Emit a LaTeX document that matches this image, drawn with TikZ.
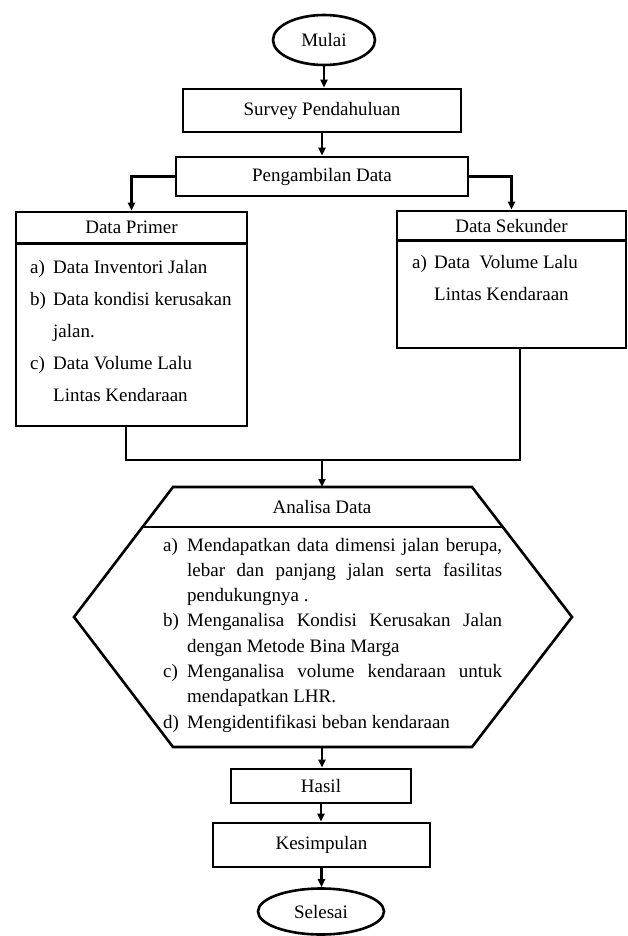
\documentclass[tikz,border=0pt]{standalone}
\usepackage{fontspec}
\setmainfont{Liberation Serif}
\usetikzlibrary{arrows.meta,shapes.geometric,calc}
\begin{document}
\begin{tikzpicture}[x=1pt,y=-1pt,
  every node/.style={font=\fontsize{19}{23}\selectfont, inner sep=0pt},
  box/.style={draw, line width=2.6pt, rectangle},
  term/.style={draw, line width=2.6pt, ellipse},
  sep/.style={line width=2.6pt},
  conn/.style={line width=2.1pt},
  arr/.style={conn, -{Triangle[length=8pt,width=7pt]}},
  txt/.style={anchor=base west},
  jline/.style={anchor=base west}]
\useasboundingbox (0,0) rectangle (628,936);

% terminals and boxes
\node[term, minimum width=102pt, minimum height=50pt] (mulai) at (324,40) {Mulai};
\node[box, minimum width=278pt, minimum height=43pt] (survey) at (322,110.5) {Survey Pendahuluan};
\node[box, minimum width=292pt, minimum height=39pt] (ambil) at (322,176.5) {Pengambilan Data};

% Data Primer
\node[box, minimum width=231pt, minimum height=214pt] (primer) at (131.5,319) {};
\draw[sep] ($(primer.north west)+(0,33)$) -- ($(primer.north east)+(0,33)$);
\node (primerT) at ($(primer.north)+(0,17)$) {Data Primer};
\node[txt] (p1l) at (30,273) {a)};
\node[txt] (p1) at (53,273) {Data Inventori Jalan};
\node[txt] (p2l) at (30,305) {b)};
\node[txt] (p2) at (53,305) {Data kondisi kerusakan};
\node[txt] (p3) at (53,337) {jalan.};
\node[txt] (p4l) at (30,369) {c)};
\node[txt] (p4) at (53,369) {Data Volume Lalu};
\node[txt] (p5) at (53,401) {Lintas Kendaraan};

% Data Sekunder
\node[box, minimum width=229pt, minimum height=137pt] (sekunder) at (511.5,279.5) {};
\draw[sep] ($(sekunder.north west)+(0,31)$) -- ($(sekunder.north east)+(0,31)$);
\node (sekT) at ($(sekunder.north)+(0,16)$) {Data Sekunder};
\node[txt] (s1l) at (412,268) {a)};
\node[txt] (s1) at (434,268) {Data~~Volume Lalu};
\node[txt] (s2) at (434,300) {Lintas Kendaraan};

% Analisa Data hexagon
\coordinate (hexNW) at (173,487);
\coordinate (hexNE) at (472,487);
\coordinate (hexE) at (572,617);
\coordinate (hexSE) at (472,747);
\coordinate (hexSW) at (173,747);
\coordinate (hexW) at (74,617);
\coordinate (hexN) at (322,487);
\coordinate (hexS) at (322,747);
\draw[sep, line join=miter] (hexNW) -- (hexNE) -- (hexE) -- (hexSE) -- (hexSW) -- (hexW) -- cycle;
\draw[sep] (142.5,527) -- (502.8,527);
\node (anT) at (322,507) {Analisa Data};
\node[txt] (a1l) at (163,551) {a)};
\node[jline] (a1) at (187,551) {\makebox[315pt][s]{Mendapatkan data dimensi jalan berupa,}};
\node[jline] (a2) at (187,576.3) {\makebox[315pt][s]{lebar dan panjang jalan serta fasilitas}};
\node[txt] (a3) at (187,601.6) {pendukungnya .};
\node[txt] (a4l) at (163,626.9) {b)};
\node[jline] (a4) at (187,626.9) {\makebox[315pt][s]{Menganalisa Kondisi Kerusakan Jalan}};
\node[txt] (a5) at (187,652.2) {dengan Metode Bina Marga};
\node[txt] (a6l) at (163,677.5) {c)};
\node[jline] (a6) at (187,677.5) {\makebox[315pt][s]{Menganalisa volume kendaraan untuk}};
\node[txt] (a7) at (187,702.8) {mendapatkan LHR.};
\node[txt] (a8l) at (163,728.1) {d)};
\node[txt] (a8) at (187,728.1) {Mengidentifikasi beban kendaraan};

% bottom
\node[box, minimum width=180pt, minimum height=34pt] (hasil) at (321,786) {Hasil};
\node[box, minimum width=217pt, minimum height=44pt] (kes) at (321.5,845) {Kesimpulan};
\node[term, minimum width=126pt, minimum height=46pt] (selesai) at (321,911.5) {Selesai};

% connectors
\draw[arr] (mulai.south) -- (mulai.south |- survey.north);
\draw[arr] (survey.south) -- (survey.south |- ambil.north);
\draw[arr] (ambil.west) -| (primer.north);
\draw[arr] (ambil.east) -| (sekunder.north);
\coordinate (join) at (322,460);
\draw[conn] ([xshift=-5.5pt]primer.south) |- (join);
\draw[conn] ([xshift=8.5pt]sekunder.south) |- (join);
\draw[arr] (join) -- (hexN);
\draw[arr] (hexS) -- (hexS |- hasil.north);
\draw[arr] (hasil.south) -- (hasil.south |- kes.north);
\draw[arr] (kes.south) -- (kes.south |- selesai.north);
\end{tikzpicture}
\end{document}
